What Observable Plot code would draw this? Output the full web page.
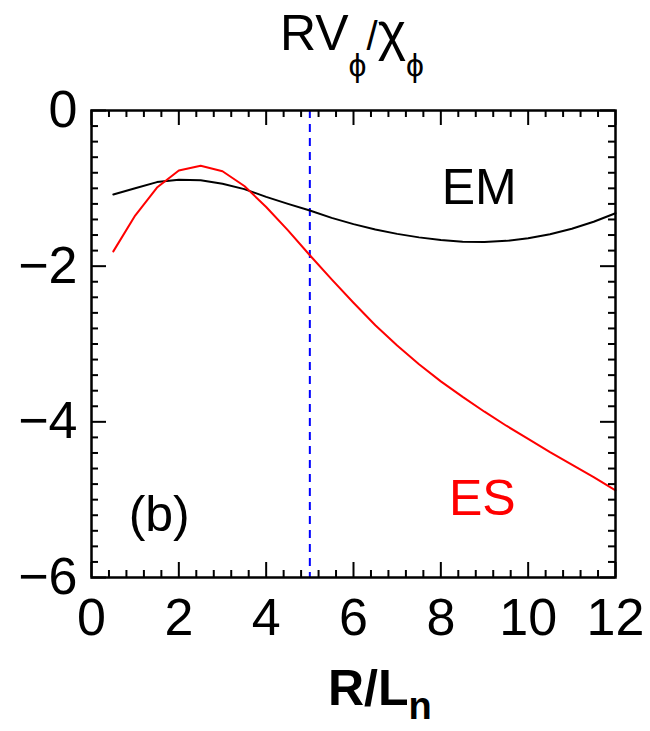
<!DOCTYPE html>
<html>
<head>
<meta charset="utf-8">
<script src="https://cdn.jsdelivr.net/npm/d3@7"></script>
<script src="https://cdn.jsdelivr.net/npm/@observablehq/plot@0.6"></script>
<style>
  html, body { margin: 0; padding: 0; background: #fff; }
  body { font-family: "Liberation Sans", Arial, Helvetica, sans-serif; color: #000; }
  #wrap { position: relative; width: 650px; height: 731px; overflow: hidden; }
  #title { position: relative; width: 650px; height: 90px; }
  #title .t { position: absolute; left: 27px; top: 4px; width: 650px; text-align: center;
              font-size: 50px; line-height: 1; white-space: nowrap; }
  #title .sub { font-size: 32px; position: relative; top: 26px; }
  #title .sl { font-size: 40px; }
  #title .chi { font-size: 54px; }
  #chart { width: 650px; height: 560px; }
  #xlabel { position: relative; width: 650px; height: 81px; }
  #xlabel .t { position: absolute; left: 328px; top: 13px; font-size: 50px; font-weight: bold;
               line-height: 1; white-space: nowrap; }
  #xlabel .sub { font-size: 38px; position: relative; top: 14px; }
</style>
</head>
<body>
<div id="wrap">
  <div id="title"><div class="t">RV<span class="sub">ϕ</span><span class="sl">/</span><span class="chi">χ</span><span class="sub">ϕ</span></div></div>
  <div id="chart"></div>
  <div id="xlabel"><div class="t">R/L<span class="sub">n</span></div></div>
</div>
<script>
// ---- data ----
const rLn = [0.5, 1.0, 1.5, 2.0, 2.5, 3.0, 3.5, 4.0, 4.5, 5.0, 5.5, 6.0,
             6.5, 7.0, 7.5, 8.0, 8.5, 9.0, 9.5, 10.0, 10.5, 11.0, 11.5, 12.0];
const emValues = [-1.08, -1.00, -0.92, -0.89, -0.895, -0.94, -1.01, -1.11, -1.20, -1.285, -1.38, -1.46,
                  -1.53, -1.585, -1.63, -1.665, -1.685, -1.69, -1.675, -1.64, -1.59, -1.52, -1.43, -1.32];
const esValues = [-1.81, -1.35, -0.99, -0.77, -0.71, -0.78, -0.97, -1.24, -1.54, -1.86, -2.17, -2.47,
                  -2.76, -3.02, -3.26, -3.48, -3.68, -3.87, -4.05, -4.22, -4.39, -4.55, -4.71, -4.88];
const markerX = [5];
const xTickLabels = [0, 2, 4, 6, 8, 10, 12];
const yTickLabels = [0, -2, -4, -6];
const annText = ["EM", "ES", "(b)"];
const annX = [8.88, 8.95, 1.55];
const annY = [-1.0, -4.99, -5.2];
const annColor = ["#000000", "#ff0000", "#000000"];

// ---- derived tables ----
const emData = rLn.map((x, i) => ({x, y: emValues[i]}));
const esData = rLn.map((x, i) => ({x, y: esValues[i]}));
const annData = annText.map((t, i) => ({t, x: annX[i], y: annY[i], c: annColor[i]}));
const xMinor = d3.range(0, 31).filter(i => i % 5 !== 0).map(i => i * 0.4);
const yMinor = d3.range(0, 31).filter(i => i % 10 !== 0).map(i => -i * 0.2);

const W = 650, H = 560, mt = 20, mb = 73, ml = 91, mr = 35;
const fh = H - mt - mb, fw = W - ml - mr;
const majorLen = 15, minorLen = 7, sw = 2;
const fmt = d => d < 0 ? "\u2212" + Math.abs(d) : String(d);

const chart = Plot.plot({
  width: W, height: H,
  marginTop: mt, marginBottom: mb, marginLeft: ml, marginRight: mr,
  x: {domain: [0, 12]},
  y: {domain: [-6, 0]},
  style: {fontFamily: '"Liberation Sans", Arial, Helvetica, sans-serif', background: "#fff", color: "#000", overflow: "visible"},
  marks: [
    Plot.ruleX(markerX, {x: d => d, stroke: "#0000ff", strokeWidth: 2, strokeDasharray: "8,6"}),
    Plot.line(emData, {x: "x", y: "y", stroke: "#000000", strokeWidth: 2}),
    Plot.line(esData, {x: "x", y: "y", stroke: "#ff0000", strokeWidth: 2}),
    Plot.frame({stroke: "#000", strokeWidth: 2.5}),
    // x ticks (bottom & top, inward)
    Plot.ruleX(xTickLabels, {x: d => d, insetTop: fh - majorLen, strokeWidth: sw}),
    Plot.ruleX(xTickLabels, {x: d => d, insetBottom: fh - majorLen, strokeWidth: sw}),
    Plot.ruleX(xMinor, {x: d => d, insetTop: fh - minorLen, strokeWidth: sw}),
    Plot.ruleX(xMinor, {x: d => d, insetBottom: fh - minorLen, strokeWidth: sw}),
    // y ticks (left & right, inward)
    Plot.ruleY(yTickLabels, {y: d => d, insetRight: fw - majorLen, strokeWidth: sw}),
    Plot.ruleY(yTickLabels, {y: d => d, insetLeft: fw - majorLen, strokeWidth: sw}),
    Plot.ruleY(yMinor, {y: d => d, insetRight: fw - minorLen, strokeWidth: sw}),
    Plot.ruleY(yMinor, {y: d => d, insetLeft: fw - minorLen, strokeWidth: sw}),
    Plot.axisX({ticks: xTickLabels, tickSize: 0, tickPadding: 21, fontSize: 52, label: null, tickFormat: fmt}),
    Plot.axisY({ticks: yTickLabels, tickSize: 0, tickPadding: 14, fontSize: 52, label: null, tickFormat: fmt}),
    Plot.text(annData, {x: "x", y: "y", text: "t", fill: "c", fontSize: 50, textAnchor: "middle", lineAnchor: "middle"})
  ]
});
document.getElementById("chart").appendChild(chart);
</script>
</body>
</html>
